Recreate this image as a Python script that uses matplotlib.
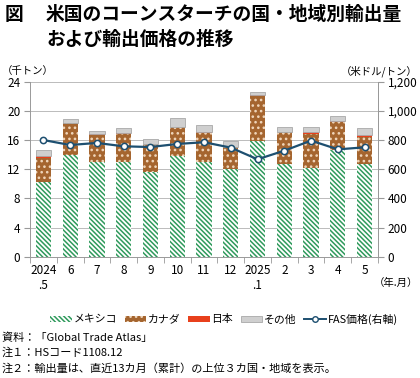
import numpy as np
import matplotlib
matplotlib.use('Agg')
import matplotlib.pyplot as plt
from matplotlib.lines import Line2D
from matplotlib.patches import Patch

plt.rcParams['font.family'] = ['Noto Sans CJK JP', 'DejaVu Sans']
plt.rcParams['hatch.linewidth'] = 1.1

# data (thousand tons, USD/ton)
months = ['2024\n.5', '6', '7', '8', '9', '10', '11', '12', '2025\n.1', '2', '3', '4', '5']
mexico = [10.2, 13.95, 13.0, 13.0, 11.6, 13.8, 13.0, 12.0, 15.8, 12.75, 12.2, 14.65, 12.75]
canada = [3.4, 4.35, 3.65, 3.8, 3.85, 3.95, 4.0, 3.0, 6.25, 4.3, 4.65, 3.85, 3.7]
japan = [0.2, 0.1, 0.15, 0.1, 0.05, 0.05, 0.05, 0.1, 0.15, 0.05, 0.25, 0.1, 0.2]
other = [0.9, 0.5, 0.4, 0.75, 0.7, 1.25, 0.95, 0.8, 0.4, 0.75, 0.65, 0.75, 0.95]
fas_price = [800, 766, 780, 757, 752, 773, 785, 748, 668, 727, 796, 736, 750]

green = '#2f9a5c'
brown = '#a5652f'
red = '#e8401c'
gray = '#cfcfcf'
navy = '#1d4f70'
green_hatch = '\\' * 7
brown_hatch = '...'

fig = plt.figure(figsize=(4.2, 3.78), dpi=100)
ax = fig.add_axes([30 / 420, 1 - 256.7 / 378, 348 / 420, 175 / 378])
x = np.arange(len(months))
w = 0.57

mex = np.array(mexico)
can = np.array(canada)
jpn = np.array(japan)
oth = np.array(other)

ax.bar(x, mex, w, color='white', edgecolor=green, hatch=green_hatch, linewidth=0, zorder=2)
ax.bar(x, can, w, bottom=mex, color=brown, edgecolor='#f0d6bb', hatch=brown_hatch, linewidth=0, zorder=2)
ax.bar(x, jpn, w, bottom=mex + can, color=red, linewidth=0, zorder=2)
ax.bar(x, oth, w, bottom=mex + can + jpn, color=gray, edgecolor='#a8a8a8', linewidth=0.6, zorder=2)

ax.set_ylim(0, 24)
ax.set_yticks(np.arange(0, 25, 4))
ax.set_xlim(-0.5, len(months) - 0.5)
ax.set_xticks(x)
ax.set_xticklabels(months, fontsize=8.5, linespacing=1.25)
ax.set_xticks(np.arange(-0.5, len(months), 1), minor=True)
ax.tick_params(axis='x', which='major', length=0, pad=5)
ax.tick_params(axis='x', which='minor', length=4, color='#999999')
ax.tick_params(axis='y', length=4, color='#999999', labelsize=8.5, pad=3)
ax.grid(axis='y', color='#bbbbbb', linewidth=0.7, zorder=0)
ax.set_axisbelow(True)
ax.spines['top'].set_visible(False)
for s in ['left', 'right', 'bottom']:
    ax.spines[s].set_color('#999999')
    ax.spines[s].set_linewidth(0.7)

ax2 = ax.twinx()
ax2.plot(x, fas_price, color=navy, linewidth=1.6, marker='o', markersize=4.5,
         markerfacecolor='white', markeredgecolor=navy, markeredgewidth=1.1, zorder=5)
ax2.set_ylim(0, 1200)
ax2.set_yticks(np.arange(0, 1201, 200))
ax2.set_yticklabels([f'{v:,}' for v in range(0, 1201, 200)])
ax2.tick_params(axis='y', length=4, color='#999999', labelsize=8.5, pad=3)
for s in ['top', 'left', 'bottom']:
    ax2.spines[s].set_visible(False)
ax2.spines['right'].set_color('#999999')
ax2.spines['right'].set_linewidth(0.7)

# title and unit labels
fig.text(5 / 420, 1 - 14 / 378, '図', fontsize=13.5, fontweight='bold', va='center', ha='left')
fig.text(46 / 420, 1 - 14 / 378, '米国のコーンスターチの国・地域別輸出量', fontsize=13.5,
         fontweight='bold', va='center', ha='left')
fig.text(46 / 420, 1 - 39 / 378, 'および輸出価格の推移', fontsize=13.5, fontweight='bold',
         va='center', ha='left')
fig.text(2 / 420, 1 - 71 / 378, '（千トン）', fontsize=7.5, va='center', ha='left')
fig.text(418 / 420, 1 - 71 / 378, '（米ドル/トン）', fontsize=7.5, va='center', ha='right')
fig.text(418 / 420, 1 - 283 / 378, '（年.月）', fontsize=7.5, va='center', ha='right')

handles = [
    Patch(facecolor='white', edgecolor=green, hatch=green_hatch, linewidth=0),
    Patch(facecolor=brown, edgecolor='#f0d6bb', hatch=brown_hatch, linewidth=0),
    Patch(facecolor=red, linewidth=0),
    Patch(facecolor=gray, edgecolor='#a8a8a8', linewidth=0.6),
    Line2D([], [], color=navy, linewidth=1.4, marker='o', markersize=4,
           markerfacecolor='white', markeredgecolor=navy),
]
labels = ['メキシコ', 'カナダ', '日本', 'その他', 'FAS価格(右軸)']
fig.legend(handles, labels, loc='center', bbox_to_anchor=(224 / 420, 1 - 319 / 378),
           ncol=5, frameon=False, fontsize=7.8, handlelength=2.0, handleheight=0.45,
           handletextpad=0.15, columnspacing=0.7, borderpad=0)

notes = ['資料：「Global Trade Atlas」',
         '注１：HSコード1108.12',
         '注２：輸出量は、直近13カ月（累計）の上位３カ国・地域を表示。']
for i, t in enumerate(notes):
    fig.text(2 / 420, 1 - (338 + 15 * i) / 378, t, fontsize=8, va='center', ha='left')

fig.savefig('out.png', dpi=100)
